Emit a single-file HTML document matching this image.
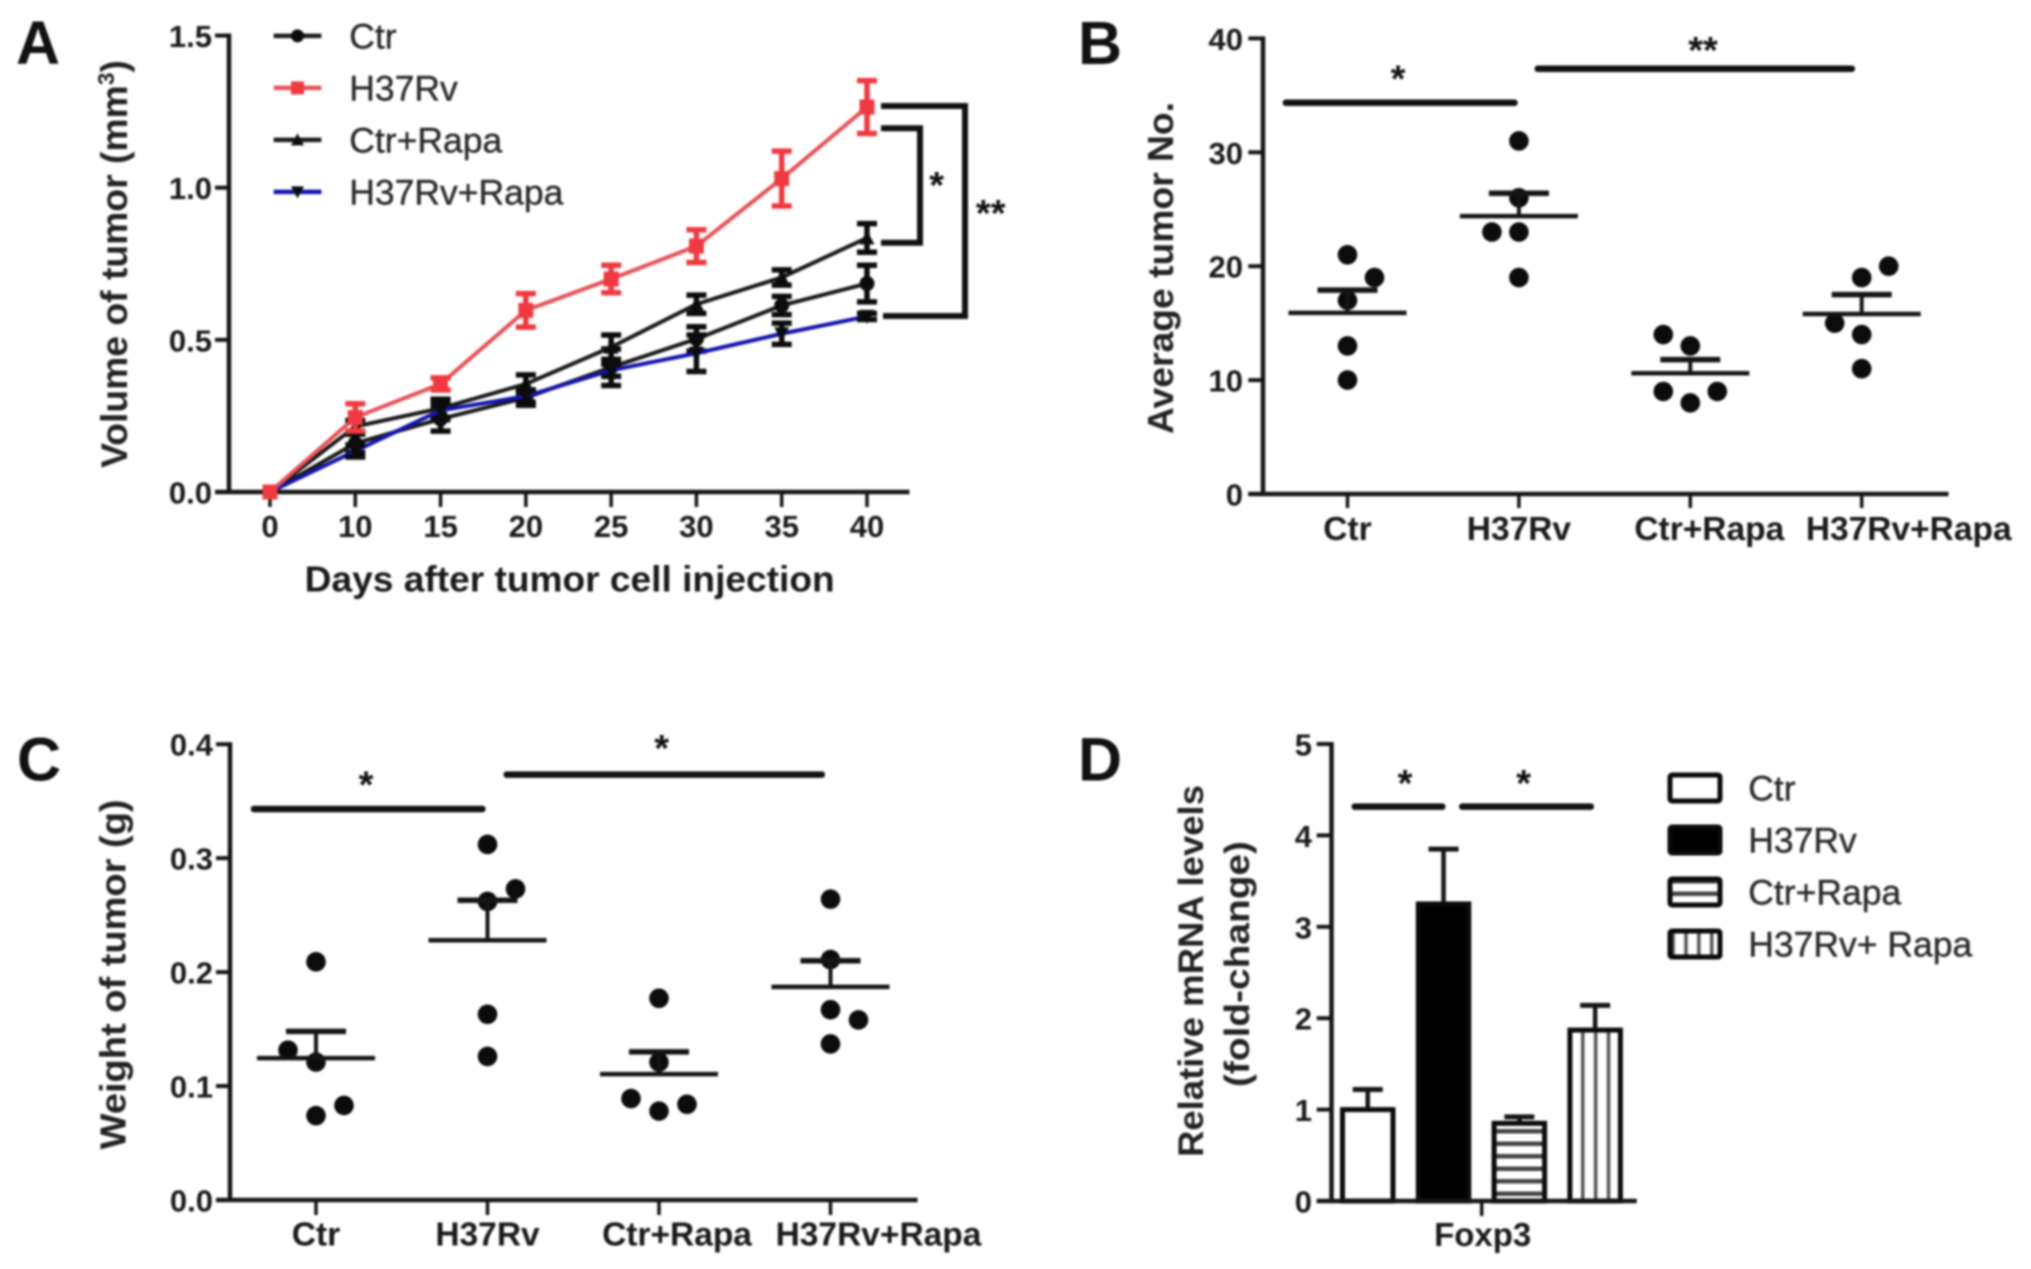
<!DOCTYPE html>
<html lang="en">
<head>
<meta charset="utf-8">
<title>Tumor figure panels A-D</title>
<style>
html,body{margin:0;padding:0;background:#fff;width:2031px;height:1269px;overflow:hidden}
svg{display:block;filter:blur(1px);font-family:"Liberation Sans",sans-serif}
.bold{font-weight:700;fill:#1a1a1a}
.panel{font-weight:700;font-size:61px;fill:#111}
.star{font-weight:700;font-size:38px;fill:#111;text-anchor:middle}
.ytitle{font-weight:700;fill:#222;text-anchor:middle}
.leg{font-size:35.5px;fill:#2a2a2a;stroke:#2a2a2a;stroke-width:.4}
</style>
</head>
<body>
<svg id="fig" xmlns="http://www.w3.org/2000/svg" width="2031" height="1269" viewBox="0 0 2031 1269">
  <defs>
    <pattern id="hstripe" width="10" height="12.5" patternUnits="userSpaceOnUse">
      <rect width="10" height="12.5" fill="#fff"/><rect y="4" width="10" height="4.5" fill="#444"/>
    </pattern>
    <pattern id="vstripe" x="1581" width="12.9" height="10" patternUnits="userSpaceOnUse">
      <rect width="12.9" height="10" fill="#fff"/><rect x="0" width="3.5" height="10" fill="#555"/>
    </pattern>
  </defs>
  <rect width="2031" height="1269" fill="#fff"/>

  <text class="panel" x="16" y="64">A</text>
  <text class="panel" x="1078" y="64">B</text>
  <text class="panel" x="17" y="780.5">C</text>
  <text class="panel" x="1078" y="780.5">D</text>

  <g id="panelA">
    <text class="ytitle" font-size="37.3" transform="translate(127,264) rotate(-90)">Volume of tumor (mm<tspan font-size="23" dy="-13">3</tspan><tspan dy="13">)</tspan></text>
    <text class="bold" font-size="36" x="569.7" y="591.6" text-anchor="middle" textLength="530" lengthAdjust="spacingAndGlyphs">Days after tumor cell injection</text>
    <path d="M881 106H965V316H883" fill="none" stroke="#111" stroke-width="6"/>
    <path d="M881 128.3H920V242.7H881" fill="none" stroke="#111" stroke-width="6"/>
    <text class="star" x="936.7" y="198">*</text>
    <text class="star" x="990.7" y="226">**</text>
  </g>

  <g id="panelB">
    <text class="ytitle" font-size="36" x="0" y="0" transform="translate(1173,268) rotate(-90)" textLength="332" lengthAdjust="spacingAndGlyphs">Average tumor No.</text>
    <rect x="1282.7" y="99.5" width="235" height="6.5" rx="3" fill="#111"/>
    <rect x="1534.6" y="65.5" width="320.4" height="6.5" rx="3" fill="#111"/>
    <text class="star" x="1398" y="91.5">*</text>
    <text class="star" x="1703" y="63">**</text>
  </g>

  <g id="panelC">
    <text class="ytitle" font-size="36" transform="translate(125.4,974.4) rotate(-90)" textLength="350" lengthAdjust="spacingAndGlyphs">Weight of tumor (g)</text>
    <rect x="250.8" y="805.8" width="234.8" height="6.5" rx="3" fill="#111"/>
    <rect x="503.5" y="771.4" width="321.5" height="6.5" rx="3" fill="#111"/>
    <text class="star" x="366" y="797.5">*</text>
    <text class="star" x="661.7" y="761">*</text>
  </g>

  <g id="panelD">
    <text class="ytitle" font-size="35" transform="translate(1203,971) rotate(-90)" textLength="372" lengthAdjust="spacingAndGlyphs">Relative mRNA levels</text>
    <text class="ytitle" font-size="35" transform="translate(1249,964) rotate(-90)" textLength="246" lengthAdjust="spacingAndGlyphs">(fold-change)</text>
    <rect x="1351.5" y="803.4" width="94" height="6.5" rx="3" fill="#111"/>
    <rect x="1459" y="803.4" width="135" height="6.5" rx="3" fill="#111"/>
    <text class="star" x="1405" y="796">*</text>
    <text class="star" x="1523.6" y="796">*</text>
  </g>
</svg>

<script>
// ---------- Panel A data ----------
const aDays = ['0', '10', '15', '20', '25', '30', '35', '40'];
const aYTicks = [0, 0.5, 1.0, 1.5];
const aCtr = [0, 0.16, 0.24, 0.31, 0.41, 0.503, 0.613, 0.685];
const aCtrErr = [0, 0.03, 0.04, 0.025, 0.06, 0.04, 0.03, 0.06];
const aH37 = [0, 0.245, 0.355, 0.597, 0.70, 0.808, 1.03, 1.265];
const aH37Err = [0, 0.045, 0.02, 0.055, 0.045, 0.054, 0.09, 0.087];
const aCtrRapa = [0, 0.215, 0.275, 0.355, 0.476, 0.617, 0.705, 0.835];
const aCtrRapaErr = [0, 0.02, 0.03, 0.03, 0.04, 0.03, 0.025, 0.047];
const aH37Rapa = [0, 0.135, 0.268, 0.315, 0.40, 0.456, 0.52, 0.577];
const aH37RapaErr = [0, 0.02, 0.03, 0.02, 0.02, 0.06, 0.035, 0.01];
const aLegend = ['Ctr', 'H37Rv', 'Ctr+Rapa', 'H37Rv+Rapa'];

// ---------- Panel B data ----------
const groupNames = ['Ctr', 'H37Rv', 'Ctr+Rapa', 'H37Rv+Rapa'];
const bYTicks = [0, 10, 20, 30, 40];
const bCtr = [21, 19, 17, 13, 10];
const bH37 = [31, 26, 23, 23, 19];
const bCtrRapa = [14, 13, 9, 9, 8];
const bH37Rapa = [20, 19, 15, 14, 11];
const bMeans = [15.9, 24.4, 10.6, 15.8];
const bSems = [2.0, 2.0, 1.2, 1.7];
// swarm column of each point: -1 left, 0 centre, 1 right
const bCols = [[0, 1, 0, 0, 0], [0, 0, -1, 0, 0], [-1, 0, -1, 1, 0], [1, 0, -1, 0, 0]];

// ---------- Panel C data ----------
const cYTicks = [0, 0.1, 0.2, 0.3, 0.4];
const cCtr = [0.209, 0.1315, 0.121, 0.083, 0.074];
const cH37 = [0.312, 0.273, 0.262, 0.163, 0.126];
const cCtrRapa = [0.177, 0.121, 0.089, 0.084, 0.078];
const cH37Rapa = [0.264, 0.211, 0.167, 0.158, 0.137];
const cMeans = [0.1245, 0.228, 0.1105, 0.187];
const cSems = [0.0235, 0.035, 0.0195, 0.023];
const cCols = [[0, -1, 0, 1, 0], [0, 1, 0, 0, 0], [0, 0, -1, 1, 0], [0, 0, 0, 1, 0]];

// ---------- Panel D data ----------
const dYTicks = [0, 1, 2, 3, 4, 5];
const dValues = [1.0, 3.25, 0.85, 1.87];
const dErrors = [0.22, 0.60, 0.07, 0.27];
const dLegend = ['Ctr', 'H37Rv', 'Ctr+Rapa', 'H37Rv+ Rapa'];
const dCategory = ['Foxp3'];

// ---------- helpers ----------
const NS = 'http://www.w3.org/2000/svg';
const INK = '#151515';
function mk(tag, props, parent) {
  const el = document.createElementNS(NS, tag);
  for (const k in props) el.setAttribute(k, props[k]);
  parent.appendChild(el);
  return el;
}
function seg(parent, x1, y1, x2, y2, w, color) {
  return mk('line', {x1, y1, x2, y2, 'stroke-width': w, stroke: color || INK}, parent);
}
function txt(parent, x, y, str, size, cls, anchor) {
  const t = mk('text', {x, y, 'font-size': size, class: cls, 'text-anchor': anchor || 'middle'}, parent);
  t.textContent = str;
  return t;
}

function drawAxes(g, o) {
  const yAxis = seg(g, o.x0, o.y(o.yTicks[o.yTicks.length - 1]) - 2, o.x0, o.y(0) + 2, 4.5);
  
  
  const xAxis = seg(g, o.tickLeft, o.y(0), o.x1, o.y(0), 4.5);
  
  
  o.yTicks.forEach(function (v) {
    const tick = seg(g, o.tickLeft, o.y(v), o.x0, o.y(v), 4);
    
    
    const lab = txt(g, o.labelRight, o.y(v) + 11.5, o.fmt(v), 31, 'bold', 'end');
    
    
  });
}

// ---------- Panel A ----------
(function () {
  const g = document.getElementById('panelA');
  const xA = function (i) { return 270 + i * (867 - 270) / (aDays.length - 1); };
  const yA = function (v) { return 492 - v * 304.3; };
  drawAxes(g, {x0: 229, x1: 909.5, tickLeft: 215, labelRight: 212, y: yA, yTicks: aYTicks, fmt: function (v) { return v.toFixed(1); }});
  aDays.forEach(function (d, i) {
    const tick = seg(g, xA(i), 492, xA(i), 507, 3.5);
    
    
    const lab = txt(g, xA(i), 537, d, 31, 'bold');
    
    
  });

  function marker(parent, shape, x, y, color, size) {
    const s = size;
    if (shape === 'circle') return mk('circle', {cx: x, cy: y, r: s, fill: color}, parent);
    if (shape === 'square') return mk('rect', {x: x - s, y: y - s, width: 2 * s, height: 2 * s, fill: color}, parent);
    if (shape === 'up') return mk('polygon', {points: (x - s) + ',' + (y + s - 1) + ' ' + (x + s) + ',' + (y + s - 1) + ' ' + x + ',' + (y - s), fill: color}, parent);
    return mk('polygon', {points: (x - s) + ',' + (y - s + 1) + ' ' + (x + s) + ',' + (y - s + 1) + ' ' + x + ',' + (y + s), fill: color}, parent);
  }

  const series = [
    {name: 'ctr', vals: aCtr, errs: aCtrErr, line: '#1a1a1a', mark: '#0c0c0c', shape: 'circle'},
    {name: 'ctr-rapa', vals: aCtrRapa, errs: aCtrRapaErr, line: '#1a1a1a', mark: '#0c0c0c', shape: 'up'},
    {name: 'h37rv-rapa', vals: aH37Rapa, errs: aH37RapaErr, line: '#1414b0', mark: '#0c0c0c', shape: 'down'},
    {name: 'h37rv', vals: aH37, errs: aH37Err, line: '#e85258', mark: '#ee3a40', shape: 'square'}
  ];
  series.forEach(function (s) {
    const sg = mk('g', {}, g);
    
    
    const pts = s.vals.map(function (v, i) { return xA(i) + ',' + yA(v); }).join(' ');
    const path = mk('polyline', {points: pts, fill: 'none', stroke: s.line, 'stroke-width': 4}, sg);
    
    
    s.vals.forEach(function (v, i) {
      const x = xA(i), hi = yA(v + s.errs[i]), lo = yA(v - s.errs[i]);
      if (s.errs[i] > 0) {
        const bar = mk('path', {d: 'M' + (x - 10) + ' ' + hi + 'H' + (x + 10) + 'M' + x + ' ' + hi + 'V' + lo + 'M' + (x - 10) + ' ' + lo + 'H' + (x + 10), fill: 'none', stroke: s.mark, 'stroke-width': 5.5}, sg);
        
        
      }
      const m = marker(sg, s.shape, x, yA(v), s.mark, 7.5);
      
      
    });
  });

  // legend
  const legendColors = ['#1a1a1a', '#e85258', '#1a1a1a', '#1414b0'];
  const legendMarks = ['#0c0c0c', '#ee3a40', '#0c0c0c', '#0c0c0c'];
  const legendShapes = ['circle', 'square', 'up', 'down'];
  aLegend.forEach(function (name, i) {
    const ly = 35.9 + i * 52;
    const entry = mk('g', {}, g);
    
    
    seg(entry, 273.7, ly, 321.4, ly, 4.5, legendColors[i]);
    marker(entry, legendShapes[i], 297.5, ly, legendMarks[i], 6.5);
    txt(entry, 349.3, ly + 12.5, name, 35.5, 'leg', 'start');
  });
})();

// ---------- Panels B and C ----------
function drawScatter(g, o) {
  drawAxes(g, o);
  groupNames.forEach(function (name, i) {
    const cx = o.x(i);
    const tick = seg(g, cx, o.y(0), cx, o.tickBottom, 3.5);
    
    
    const lab = txt(g, cx + o.labelShift[i], o.labelBase, name, 33.5, 'bold');
    
    
    o.points[i].forEach(function (v, j) {
      const dot = mk('circle', {cx: cx + o.cols[i][j] * o.step, cy: o.y(v), r: 9.8, fill: '#0c0c0c'}, g);
      
      
    });
    const mean = seg(g, cx - 59, o.y(o.means[i]), cx + 59, o.y(o.means[i]), 4.5);
    
    
    const top = o.y(o.means[i] + o.sems[i]);
    const stem = seg(g, cx, o.y(o.means[i]), cx, top, 4);
    
    
    const cap = seg(g, cx - 30, top, cx + 30, top, 5.5);
    
    
  });
}

drawScatter(document.getElementById('panelB'), {
  x0: 1263, x1: 1948.5, tickLeft: 1248.3, labelRight: 1243,
  y: function (v) { return 494 - v * 11.39; },
  x: function (i) { return 1347.5 + i * 171.4; },
  yTicks: bYTicks, fmt: function (v) { return String(v); },
  tickBottom: 508, labelBase: 540, labelShift: [0, 0, 19, 47], step: 27,
  points: [bCtr, bH37, bCtrRapa, bH37Rapa], means: bMeans, sems: bSems, cols: bCols
});

drawScatter(document.getElementById('panelC'), {
  x0: 230, x1: 917.5, tickLeft: 216, labelRight: 213,
  y: function (v) { return 1200 - v * 1139.5; },
  x: function (i) { return 316 + i * 171.5; },
  yTicks: cYTicks, fmt: function (v) { return v.toFixed(1); },
  tickBottom: 1215, labelBase: 1245.7, labelShift: [0, 0, 18, 48], step: 28,
  points: [cCtr, cH37, cCtrRapa, cH37Rapa], means: cMeans, sems: cSems, cols: cCols
});

// ---------- Panel D ----------
(function () {
  const g = document.getElementById('panelD');
  const yD = function (v) { return 1201 - v * 91.4; };
  const barLeft = function (i) { return 1342.5 + i * 75.8; };
  const barW = 50.5;
  const fills = ['#fff', '#000', 'url(#hstripe)', 'url(#vstripe)'];
  dValues.forEach(function (v, i) {
    const cx = barLeft(i) + barW / 2;
    const stem = seg(g, cx, yD(v), cx, yD(v + dErrors[i]), 4.5);
    
    
    const cap = seg(g, cx - 15, yD(v + dErrors[i]), cx + 15, yD(v + dErrors[i]), 5);
    
    
    const bar = mk('rect', {x: barLeft(i), y: yD(v), width: barW, height: yD(0) - yD(v), fill: fills[i], stroke: '#0a0a0a', 'stroke-width': 5}, g);
    
    
  });
  drawAxes(g, {x0: 1331.5, x1: 1636.7, tickLeft: 1316.7, labelRight: 1312, y: yD, yTicks: dYTicks, fmt: function (v) { return String(v); }});
  const tick = seg(g, 1481.7, 1201, 1481.7, 1216, 3.5);
  
  
  const lab = txt(g, 1482.7, 1246, dCategory[0], 33, 'bold');
  
  
  dLegend.forEach(function (name, i) {
    const top = 775 + i * 52;
    const entry = mk('g', {}, g);
    
    
    mk('rect', {x: 1670, y: top, width: 50, height: 26, rx: 2, fill: fills[i], stroke: '#0a0a0a', 'stroke-width': 5}, entry);
    txt(entry, 1748.3, top + 25.7, name, 35.5, 'leg', 'start');
  });
})();
</script>
</body>
</html>
